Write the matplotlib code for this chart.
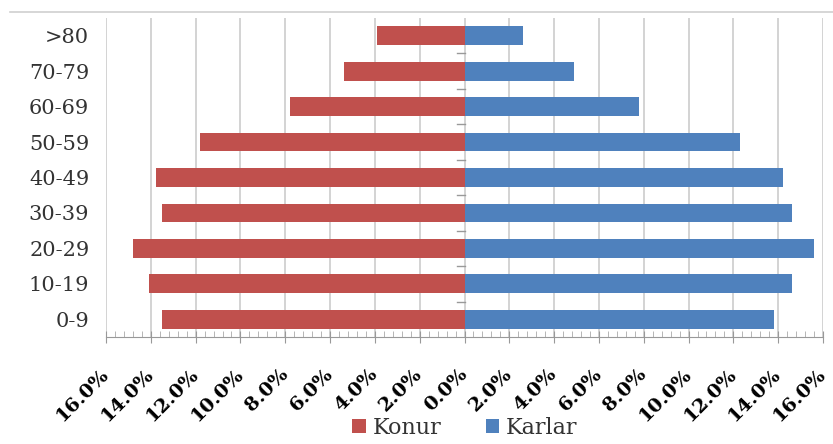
import numpy as np
import matplotlib
matplotlib.use("Agg")
from matplotlib import pyplot as plt
from matplotlib.ticker import FuncFormatter, MultipleLocator
from matplotlib.lines import Line2D

# age groups, bottom to top
ages = ["0-9", "10-19", "20-29", "30-39", "40-49", "50-59", "60-69", "70-79", ">80"]
# percent of population
konur = [13.5, 14.1, 14.8, 13.5, 13.75, 11.8, 7.8, 5.4, 3.9]
karlar = [13.8, 14.6, 15.6, 14.6, 14.2, 12.3, 7.8, 4.9, 2.6]

red = "#C0504D"
blue = "#4F81BD"

plt.rcParams['font.family'] = ['DejaVu Serif']

fig = plt.figure(figsize=(8.33, 4.44), dpi=100)
ax = fig.add_axes([106/833, 1-337/444, 717/833, 319/444])

y = np.arange(len(ages))
ax.barh(y, -np.array(konur), height=0.53, color=red, label="Konur", zorder=3)
ax.barh(y, karlar, height=0.53, color=blue, label="Karlar", zorder=3)

ax.set_xlim(-16, 16)
ax.set_ylim(-0.5, len(ages) - 0.5)
ax.xaxis.set_major_locator(MultipleLocator(2))
ax.xaxis.set_minor_locator(MultipleLocator(0.4))
ax.xaxis.set_major_formatter(FuncFormatter(lambda v, p: "%.1f%%" % abs(v)))
ax.grid(axis="x", color="#cccccc", linewidth=1.2, zorder=0)

ax.set_yticks(y)
ax.set_yticklabels(ages, fontsize=15, color="#333333")
ax.tick_params(axis="y", length=0, pad=12)
ax.tick_params(axis="x", which="major", direction="inout", length=8, color="#999999")
ax.tick_params(axis="x", which="minor", direction="in", length=4, color="#aaaaaa")
for lab in ax.get_xticklabels():
    lab.set_rotation(45)
    lab.set_ha("right")
    lab.set_va("center")
    lab.set_rotation_mode("anchor")
    lab.set_fontsize(14)
    lab.set_fontweight("bold")
ax.tick_params(axis="x", pad=21)

for s in ["top", "left", "right"]:
    ax.spines[s].set_visible(False)
ax.spines["bottom"].set_color("#999999")

# small ticks on the central axis between groups
for yy in np.arange(0.5, len(ages) - 0.5, 1.0):
    ax.plot([-0.35, 0], [yy, yy], color="#999999", linewidth=1, zorder=4)

fig.add_artist(Line2D([10/833, 1], [1-12/444, 1-12/444], color="#d0d0d0", linewidth=1.2))

fig.legend(loc="center", bbox_to_anchor=(0.558, 0.036), ncol=2, frameon=False,
           fontsize=16, handlelength=0.6, handleheight=0.6, handletextpad=0.3,
           columnspacing=2.0, labelcolor="#333333")

fig.savefig("out.png", dpi=100)
